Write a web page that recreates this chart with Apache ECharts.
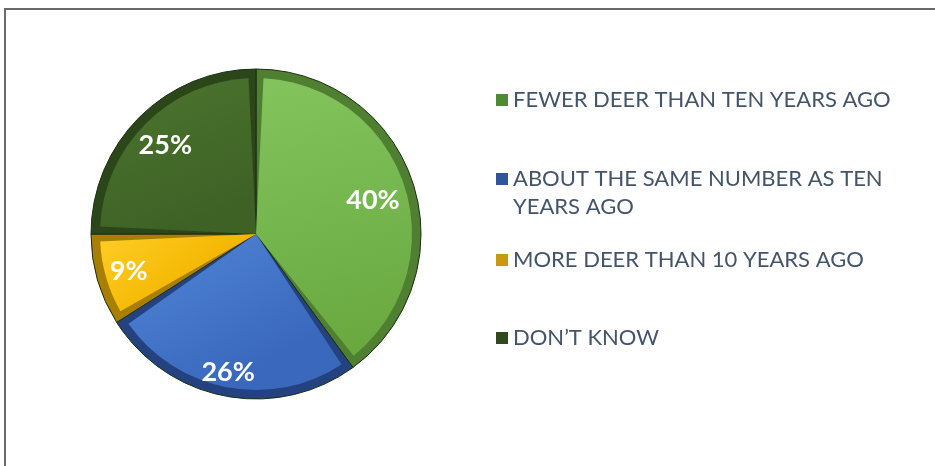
<!DOCTYPE html>
<html><head><meta charset="utf-8">
<script src="https://cdn.jsdelivr.net/npm/echarts@6/dist/echarts.min.js"></script>
<style>
html,body{margin:0;padding:0;background:#fff;}
#frame{position:absolute;left:4px;top:8px;width:940px;height:470px;border-top:2px solid #6a6a6a;border-left:2px solid #6a6a6a;box-sizing:border-box;}
#chart{position:absolute;left:0;top:0;width:935px;height:466px;}
</style></head>
<body>
<div id="frame"></div>
<div id="chart"></div>
<script>
const categories = ['FEWER DEER THAN TEN YEARS AGO', 'ABOUT THE SAME NUMBER AS TEN YEARS AGO', 'MORE DEER THAN 10 YEARS AGO', 'DON\u2019T KNOW'];
// legend text lines (item 2 wraps onto a second line)
const legendLines = [
  ['FEWER DEER THAN TEN YEARS AGO'],
  ['ABOUT THE SAME NUMBER AS TEN', 'YEARS AGO'],
  ['MORE DEER THAN 10 YEARS AGO'],
  ['DON\u2019T KNOW']
];
const values = [40, 26, 9, 25];

const faceColors = [
  ['#84c45d', '#69a940'],
  ['#5086d8', '#3a68bd'],
  ['#ffcd25', '#f3b600'],
  ['#4c752e', '#3e6226']
];
const edgeColors = ['#4f7f31', '#23427f', '#a97f00', '#2b4719'];
const legendIcons = ['#4e8a33', '#2f569c', '#c99a10', '#2e4a1e'];
// small nudges of the percent labels
const labelNudge = [[-9, 7], [-3, 8], [0, 0], [3, 5]];

function grad(c) {
  return new echarts.graphic.LinearGradient(0, 0, 0.4, 1, [
    { offset: 0, color: c[0] }, { offset: 1, color: c[1] }
  ]);
}

const cx = 256, cy = 234, R = 165;

const legendTops = [[81], [160, 188], [241], [319]];
const legends = [];
categories.forEach((name, i) => {
  legendLines[i].forEach((line, j) => {
    legends.push({
      data: [{ name: name, itemStyle: { color: j === 0 ? legendIcons[i] : 'rgba(0,0,0,0)', borderWidth: 0 } }],
      left: 491,
      top: legendTops[i][j],
      orient: 'vertical',
      icon: 'rect',
      itemWidth: 12,
      itemHeight: 12,
      selectedMode: false,
      formatter: () => line,
      textStyle: { fontFamily: 'Lato', fontSize: 22, color: '#44546a', lineHeight: 28 }
    });
  });
});

const option = {
  animation: false,
  legend: legends,
  series: [
    {
      type: 'pie', silent: true, center: [cx, cy], radius: [0, R],
      startAngle: 90, clockwise: true, label: { show: false }, labelLine: { show: false },
      itemStyle: { borderWidth: 1, borderColor: '#1d2d12' },
      data: categories.map((n, i) => ({ name: n, value: values[i], itemStyle: { color: edgeColors[i] } }))
    },
    {
      type: 'pie', silent: true, center: [cx, cy], radius: [0, R - 9],
      startAngle: 90, clockwise: true, padAngle: 5.5, label: { show: false }, labelLine: { show: false },
      data: categories.map((n, i) => ({ name: n, value: values[i], itemStyle: { color: grad(faceColors[i]) } }))
    },
    {
      type: 'pie', silent: true, center: [cx, cy], radius: [94, R],
      startAngle: 90, clockwise: true, labelLine: { show: false },
      itemStyle: { color: 'rgba(0,0,0,0)', borderWidth: 0 },
      label: {
        show: true, position: 'inside', formatter: '{c}%',
        color: '#ffffff', fontFamily: 'Lato', fontWeight: 'bold', fontSize: 27
      },
      labelLayout: (p) => ({ dx: labelNudge[p.dataIndex][0], dy: labelNudge[p.dataIndex][1] }),
      data: categories.map((n, i) => ({ name: n, value: values[i] }))
    }
  ]
};
const chart = echarts.init(document.getElementById('chart'), null, { renderer: 'canvas' });
chart.setOption(option);
</script>
</body></html>
